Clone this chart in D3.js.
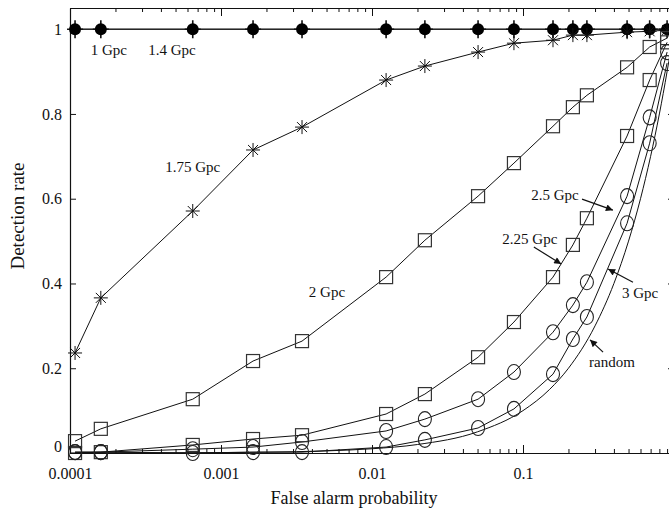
<!DOCTYPE html>
<html>
<head>
<meta charset="utf-8">
<script src="https://cdn.jsdelivr.net/npm/d3@7"></script>
<style>
  body { margin: 0; background: #fff; }
  text { font-family: "Liberation Serif", "Times New Roman", serif; fill: #111; }
</style>
</head>
<body>
<div id="chart"></div>
<script>
// false alarm probability grid shared by the marked series
var fap = [0.000108, 0.00016, 0.00065, 0.00163, 0.00344, 0.0124, 0.0224, 0.0504, 0.0871, 0.158, 0.214, 0.265, 0.489, 0.69, 0.90]

var rate1Gpc   = [1, 1, 1, 1, 1, 1, 1, 1, 1, 1, 1, 1, 1, 1, 1]
var rate1p4Gpc = [1, 1, 1, 1, 1, 1, 1, 1, 1, 1, 1, 1, 1, 1, 1]
var rate1p75Gpc = [0.236, 0.366, 0.571, 0.715, 0.769, 0.880, 0.913, 0.946, 0.967, 0.974, 0.986, 0.986, 0.993, 0.995, 0.998]
var rate2Gpc   = [0.028, 0.057, 0.127, 0.217, 0.264, 0.415, 0.502, 0.606, 0.684, 0.771, 0.816, 0.844, 0.910, 0.958, 0.979]
var rate2p25Gpc = [0.0, 0.002, 0.019, 0.033, 0.042, 0.092, 0.139, 0.226, 0.309, 0.415, 0.491, 0.554, 0.748, 0.880, 0.969]
var rate2p5Gpc = [0.002, 0.002, 0.009, 0.014, 0.026, 0.052, 0.080, 0.127, 0.191, 0.285, 0.349, 0.403, 0.606, 0.792, 0.946]
var rate3Gpc   = [0.002, 0.002, 0.0, 0.002, 0.002, 0.014, 0.031, 0.059, 0.104, 0.186, 0.269, 0.321, 0.542, 0.731, 0.920]

// random detector curve (no markers)
var randomFap  = [0.0001, 0.0002, 0.0005, 0.001, 0.002, 0.005, 0.01, 0.02, 0.05, 0.1, 0.15, 0.2, 0.3, 0.4, 0.5, 0.6, 0.7, 0.8, 0.9, 1.0]
var randomRate = [0.0001, 0.0002, 0.0005, 0.001, 0.002, 0.005, 0.01, 0.02, 0.05, 0.1, 0.15, 0.2, 0.3, 0.4, 0.5, 0.6, 0.7, 0.8, 0.9, 1.0]

// the "1" tick sits just past the right edge of the picture, so it has no label
var xTicks = [0.0001, 0.001, 0.01, 0.1, 1]
var xTickLabels = ["0.0001", "0.001", "0.01", "0.1", ""]
var yTicks = [0, 0.2, 0.4, 0.6, 0.8, 1]
var yTickLabels = ["0", "0.2", "0.4", "0.6", "0.8", "1"]

var seriesNames = ["1 Gpc", "1.4 Gpc", "1.75 Gpc", "2 Gpc", "2.25 Gpc", "2.5 Gpc", "3 Gpc"]
var seriesRates = [rate1Gpc, rate1p4Gpc, rate1p75Gpc, rate2Gpc, rate2p25Gpc, rate2p5Gpc, rate3Gpc]
var seriesSymbols = ["plus", "dot", "star", "square", "square", "circle", "circle"]

// labels: text placed at (fap, rate); arrows run from -> to in data units
var labelTexts = ["1 Gpc", "1.4 Gpc", "1.75 Gpc", "2 Gpc", "2.5 Gpc", "2.25 Gpc", "3 Gpc", "random"]
var labelFap   = [0.000181, 0.000473, 0.00065, 0.00503, 0.163, 0.111, 0.596, 0.388]
var labelRate  = [0.939, 0.939, 0.663, 0.368, 0.597, 0.493, 0.366, 0.203]
var arrowFrom  = [[0.246, 0.599], [0.118, 0.486], [0.535, 0.403], [0.339, 0.238]]
var arrowTo    = [[0.394, 0.573], [0.179, 0.446], [0.366, 0.434], [0.278, 0.267]]

var W = 669, H = 512
var padLeft = 70, padRight = 674, padTop = 8, padBottom = 453

var svg = d3.select("#chart")
    .append("svg")
        .attr("width", W)
        .attr("height", H)

var x = d3.scaleLog().domain([0.0001, 1]).range([padLeft, padRight])
var y = d3.scaleLinear().domain([0, 1.05]).range([padBottom, padTop])

var minors = []
for (var e = -4; e < 0; e++) {
    for (var m = 2; m <= 9; m++) minors.push(m * Math.pow(10, e))
}

function styleAxis(g) {
    g.selectAll("path.domain").attr("stroke", "#111").attr("stroke-width", 1.2)
    g.selectAll("line").attr("stroke", "#111")
    g.selectAll("text").style("font-size", "16px")
        .style("font-family", "'Liberation Serif', 'Times New Roman', serif").attr("fill", "#111")
}

// bottom axis
svg.append("g")
    .attr("transform", "translate(0," + padBottom + ")")
    .call(d3.axisBottom(x).tickValues(minors).tickSizeInner(-4).tickSizeOuter(0).tickFormat(""))
    .call(styleAxis)
svg.append("g")
    .attr("transform", "translate(0," + padBottom + ")")
    .call(d3.axisBottom(x).tickValues(xTicks).tickSizeInner(-8).tickSizeOuter(0).tickPadding(15)
        .tickFormat(function(d, i) { return xTickLabels[i] }))
    .call(styleAxis)

// top axis
svg.append("g")
    .attr("transform", "translate(0," + padTop + ")")
    .call(d3.axisTop(x).tickValues(minors).tickSizeInner(-4).tickSizeOuter(0).tickFormat(""))
    .call(styleAxis)
svg.append("g")
    .attr("transform", "translate(0," + padTop + ")")
    .call(d3.axisTop(x).tickValues(xTicks).tickSizeInner(-8).tickSizeOuter(0).tickFormat(""))
    .call(styleAxis)

// left axis
var ly = svg.append("g")
    .attr("transform", "translate(" + padLeft + ",0)")
    .call(d3.axisLeft(y).tickValues(yTicks).tickSizeInner(-6).tickSizeOuter(0).tickPadding(8)
        .tickFormat(function(d, i) { return yTickLabels[i] }))
    .call(styleAxis)
// the zero label sits a little above its tick in the original
ly.selectAll(".tick text").filter(function(d) { return d === 0 }).attr("y", -7)

// right axis
svg.append("g")
    .attr("transform", "translate(" + padRight + ",0)")
    .call(d3.axisRight(y).tickValues(yTicks).tickSizeInner(-6).tickSizeOuter(0).tickFormat(""))
    .call(styleAxis)

// axis titles
svg.append("text")
    .attr("x", 354)
    .attr("y", 504)
    .attr("text-anchor", "middle")
    .style("font-size", "18px")
    .text("False alarm probability")

svg.append("text")
    .attr("transform", "translate(24,216) rotate(-90)")
    .attr("text-anchor", "middle")
    .style("font-size", "19px")
    .text("Detection rate")

var plot = svg.append("g")

var line = d3.line()
    .x(function(d) { return x(d[0]) })
    .y(function(d) { return y(d[1]) })

// random curve
plot.append("path")
    .datum(d3.zip(randomFap, randomRate))
    .attr("fill", "none")
    .attr("stroke", "#111")
    .attr("stroke-width", 1)
    .attr("d", line.curve(d3.curveMonotoneX))
line.curve(d3.curveLinear)

var seriesData = seriesRates.map(function(r) { return d3.zip(fap, r) })

plot.selectAll("path.series")
    .data(seriesData)
    .join("path")
        .attr("class", "series")
        .attr("fill", "none")
        .attr("stroke", "#111")
        .attr("stroke-width", 1)
        .attr("d", line)

function drawMarker(g, sym) {
    if (sym === "plus") {
        g.append("path").attr("d", "M-8,0H8M0,-9V9").attr("stroke", "#111").attr("stroke-width", 1.6)
    } else if (sym === "dot") {
        g.append("circle").attr("r", 6).attr("fill", "#000")
    } else if (sym === "star") {
        g.append("path").attr("d", "M0,-7V7M-7,0H7M-5,-5L5,5M-5,5L5,-5")
            .attr("stroke", "#111").attr("stroke-width", 1)
    } else if (sym === "square") {
        g.append("rect").attr("x", -6.5).attr("y", -6.5).attr("width", 13).attr("height", 13)
            .attr("fill", "none").attr("stroke", "#333").attr("stroke-width", 1.2)
    } else if (sym === "circle") {
        g.append("ellipse").attr("rx", 6.5).attr("ry", 7.5)
            .attr("fill", "none").attr("stroke", "#222").attr("stroke-width", 1.1)
    }
}

seriesData.forEach(function(pts, i) {
    plot.append("g")
        .selectAll("g")
        .data(pts)
        .join("g")
            .attr("transform", function(d) { return "translate(" + x(d[0]) + "," + y(d[1]) + ")" })
            .each(function() { drawMarker(d3.select(this), seriesSymbols[i]) })
})

// labels
svg.selectAll("text.lab")
    .data(labelTexts)
    .join("text")
        .attr("class", "lab")
        .attr("x", function(d, i) { return x(labelFap[i]) })
        .attr("y", function(d, i) { return y(labelRate[i]) })
        .attr("text-anchor", "middle")
        .style("font-size", "15px")
        .text(function(d) { return d })

// arrows
svg.append("defs").append("marker")
    .attr("id", "head")
    .attr("viewBox", "0 0 10 10")
    .attr("refX", 10).attr("refY", 5)
    .attr("markerWidth", 9).attr("markerHeight", 7)
    .attr("markerUnits", "userSpaceOnUse")
    .attr("orient", "auto")
    .append("path").attr("d", "M0,0L10,5L0,10z").attr("fill", "#111")

svg.selectAll("line.arrow")
    .data(arrowFrom)
    .join("line")
        .attr("class", "arrow")
        .attr("x1", function(d) { return x(d[0]) })
        .attr("y1", function(d) { return y(d[1]) })
        .attr("x2", function(d, i) { return x(arrowTo[i][0]) })
        .attr("y2", function(d, i) { return y(arrowTo[i][1]) })
        .attr("stroke", "#111")
        .attr("stroke-width", 1.2)
        .attr("marker-end", "url(#head)")
</script>
</body>
</html>
